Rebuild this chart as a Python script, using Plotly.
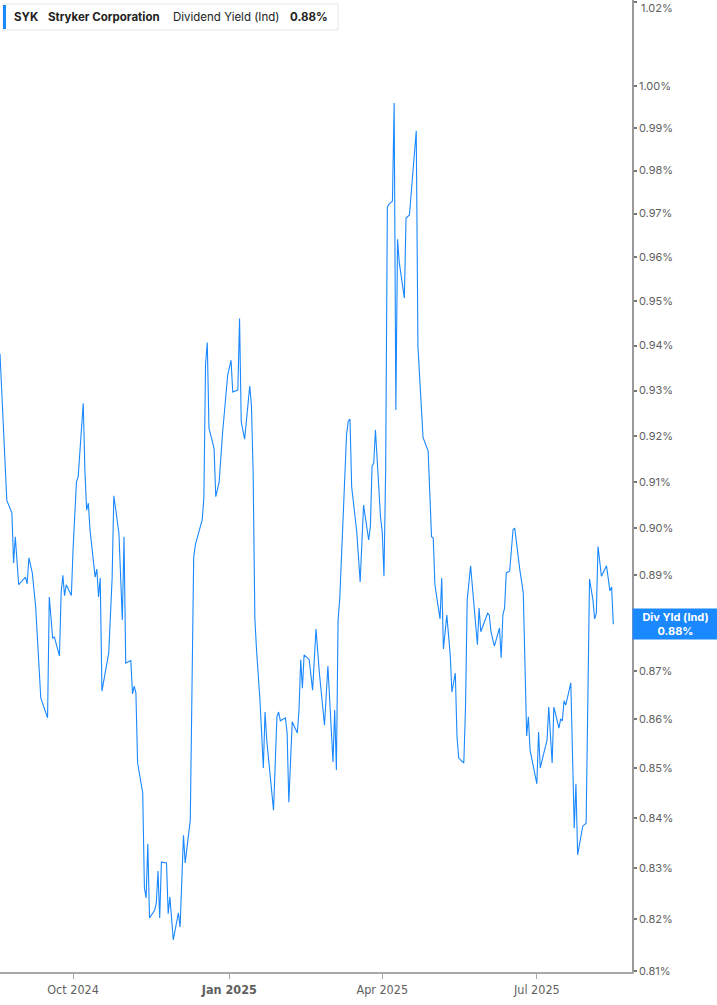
import math
import plotly.graph_objects as go

dates = [
    "2024-08-19", "2024-08-22", "2024-08-23", "2024-08-26", "2024-08-27", "2024-08-28", "2024-08-30",
    "2024-09-03", "2024-09-04", "2024-09-05", "2024-09-07", "2024-09-09", "2024-09-10", "2024-09-12",
    "2024-09-16", "2024-09-17", "2024-09-19", "2024-09-20", "2024-09-23", "2024-09-24", "2024-09-25",
    "2024-09-26", "2024-09-27", "2024-09-30", "2024-10-01", "2024-10-03", "2024-10-04", "2024-10-07",
    "2024-10-08", "2024-10-09", "2024-10-10", "2024-10-11", "2024-10-14", "2024-10-15", "2024-10-16",
    "2024-10-17", "2024-10-18", "2024-10-22", "2024-10-24", "2024-10-25", "2024-10-28", "2024-10-30",
    "2024-10-31", "2024-11-01", "2024-11-04", "2024-11-05", "2024-11-06", "2024-11-07", "2024-11-08",
    "2024-11-11", "2024-11-12", "2024-11-13", "2024-11-14", "2024-11-15", "2024-11-18", "2024-11-19",
    "2024-11-20", "2024-11-21", "2024-11-22", "2024-11-25", "2024-11-26", "2024-11-27", "2024-11-29",
    "2024-12-02", "2024-12-03", "2024-12-05", "2024-12-06", "2024-12-09", "2024-12-11", "2024-12-12",
    "2024-12-16", "2024-12-17", "2024-12-18", "2024-12-19", "2024-12-20", "2024-12-23", "2024-12-24",
    "2024-12-26", "2024-12-28", "2024-12-31", "2025-01-02", "2025-01-03", "2025-01-06", "2025-01-07",
    "2025-01-08", "2025-01-10", "2025-01-13", "2025-01-14", "2025-01-15", "2025-01-16", "2025-01-17",
    "2025-01-19", "2025-01-21", "2025-01-22", "2025-01-23", "2025-01-25", "2025-01-27", "2025-01-29",
    "2025-01-30", "2025-01-31", "2025-02-03", "2025-02-04", "2025-02-05", "2025-02-07", "2025-02-10",
    "2025-02-11", "2025-02-12", "2025-02-13", "2025-02-14", "2025-02-17", "2025-02-19", "2025-02-21",
    "2025-02-23", "2025-02-26", "2025-02-28", "2025-03-03", "2025-03-04", "2025-03-05", "2025-03-06",
    "2025-03-07", "2025-03-09", "2025-03-11", "2025-03-12", "2025-03-13", "2025-03-14", "2025-03-17",
    "2025-03-19", "2025-03-21", "2025-03-24", "2025-03-25", "2025-03-26", "2025-03-27", "2025-03-28",
    "2025-03-31", "2025-04-01", "2025-04-02", "2025-04-03", "2025-04-04", "2025-04-05", "2025-04-07",
    "2025-04-08", "2025-04-09", "2025-04-10", "2025-04-11", "2025-04-14", "2025-04-15", "2025-04-17",
    "2025-04-21", "2025-04-22", "2025-04-25", "2025-04-28", "2025-04-30", "2025-05-01", "2025-05-02",
    "2025-05-05", "2025-05-06", "2025-05-07", "2025-05-09", "2025-05-11", "2025-05-12", "2025-05-14",
    "2025-05-15", "2025-05-16", "2025-05-19", "2025-05-20", "2025-05-21", "2025-05-23", "2025-05-25",
    "2025-05-27", "2025-05-28", "2025-05-29", "2025-06-02", "2025-06-03", "2025-06-04", "2025-06-06",
    "2025-06-09", "2025-06-10", "2025-06-11", "2025-06-12", "2025-06-13", "2025-06-15", "2025-06-17",
    "2025-06-18", "2025-06-21", "2025-06-23", "2025-06-25", "2025-06-26", "2025-06-27", "2025-06-29",
    "2025-07-01", "2025-07-02", "2025-07-03", "2025-07-07", "2025-07-08", "2025-07-10", "2025-07-11",
    "2025-07-14", "2025-07-15", "2025-07-16", "2025-07-17", "2025-07-18", "2025-07-21", "2025-07-23",
    "2025-07-24", "2025-07-25", "2025-07-28", "2025-07-30", "2025-08-01", "2025-08-03", "2025-08-04",
    "2025-08-05", "2025-08-06", "2025-08-08", "2025-08-10", "2025-08-11", "2025-08-13", "2025-08-14",
    "2025-08-15",
]

div_yield = [
    0.9382, 0.9120, 0.9060, 0.9033, 0.8926, 0.8982, 0.8880,
    0.8896, 0.8882, 0.8937, 0.8905, 0.8833, 0.8764, 0.8644,
    0.8603, 0.8854, 0.8768, 0.8770, 0.8731, 0.8863, 0.8900,
    0.8857, 0.8880, 0.8857, 0.8954, 0.9100, 0.9111, 0.9272,
    0.9121, 0.9039, 0.9054, 0.8996, 0.8896, 0.8913, 0.8854,
    0.8894, 0.8658, 0.8737, 0.8894, 0.9070, 0.8990, 0.8806,
    0.8982, 0.8716, 0.8721, 0.8652, 0.8668, 0.8654, 0.8511,
    0.8451, 0.8262, 0.8242, 0.8349, 0.8203, 0.8218, 0.8232,
    0.8295, 0.8203, 0.8313, 0.8311, 0.8211, 0.8244, 0.8160,
    0.8213, 0.8185, 0.8366, 0.8311, 0.8396, 0.8937, 0.8965,
    0.9018, 0.9065, 0.9360, 0.9407, 0.9217, 0.9173, 0.9068,
    0.9100, 0.9206, 0.9334, 0.9367, 0.9297, 0.9301, 0.9461,
    0.9231, 0.9193, 0.9310, 0.9268, 0.9121, 0.8810, 0.8743,
    0.8640, 0.8501, 0.8615, 0.8558, 0.8491, 0.8416, 0.8605,
    0.8615, 0.8597, 0.8603, 0.8572, 0.8432, 0.8595, 0.8572,
    0.8619, 0.8723, 0.8664, 0.8733, 0.8723, 0.8660, 0.8787,
    0.8695, 0.8588, 0.8710, 0.8513, 0.8619, 0.8497, 0.8806,
    0.8852, 0.9031, 0.9204, 0.9233, 0.9237, 0.9089, 0.8992,
    0.8886, 0.9050, 0.8975, 0.9003, 0.9134, 0.9141, 0.9213,
    0.9022, 0.8992, 0.8898, 0.9126, 0.9715, 0.9722, 0.9729,
    0.9959, 0.9257, 0.9641, 0.9588, 0.9507, 0.9690, 0.9697,
    0.9893, 0.9398, 0.9197, 0.9167, 0.8982, 0.8979, 0.8880,
    0.8808, 0.8894, 0.8745, 0.8816, 0.8733, 0.8656, 0.8695,
    0.8564, 0.8521, 0.8511, 0.8625, 0.8848, 0.8920, 0.8827,
    0.8754, 0.8831, 0.8781, 0.8820, 0.8816, 0.8781, 0.8751,
    0.8789, 0.8727, 0.8816, 0.8831, 0.8905, 0.8909, 0.8998,
    0.9000, 0.8911, 0.8863, 0.8566, 0.8605, 0.8537, 0.8501,
    0.8469, 0.8574, 0.8501, 0.8558, 0.8625, 0.8511, 0.8625,
    0.8582, 0.8601, 0.8597, 0.8638, 0.8629, 0.8675, 0.8380,
    0.8469, 0.8327, 0.8384, 0.8390, 0.8892, 0.8848, 0.8808,
    0.8820, 0.8961, 0.8898, 0.8911, 0.8920, 0.8867, 0.8875,
    0.8797,
]

# 0.88% tick sits under the last-value label, so it is not drawn
y_tick_values = [0.81, 0.82, 0.83, 0.84, 0.85, 0.86, 0.87, 0.89, 0.90,
                 0.91, 0.92, 0.93, 0.94, 0.95, 0.96, 0.97, 0.98, 0.99, 1.00, 1.02]
y_tick_labels = [f"{v:.2f}%" for v in y_tick_values]
top_tick_label = y_tick_labels[-1]
# the top label is drawn separately so it stays fully inside the page
y_tick_labels_axis = y_tick_labels[:-1] + [""]

x_tick_dates = ["2024-10-01", "2025-01-01", "2025-04-01", "2025-07-01"]
x_tick_labels = ["Oct 2024", "<b>Jan 2025</b>", "Apr 2025", "Jul 2025"]

ticker = "SYK"
company = "Stryker Corporation"
metric = "Dividend Yield (Ind)"
last_value_label = "0.88%"
side_label = "Div Yld (Ind)"

LINE = "#1a88ff"
AXIS = "#9a9a9a"
TXT = "#5f5f5f"
FONT = "Inter, Roboto, 'Liberation Sans', sans-serif"
NARROW = "'Liberation Sans Narrow', 'DejaVu Sans Condensed', 'Roboto', sans-serif"

fig = go.Figure()
fig.add_trace(go.Scatter(
    x=dates, y=div_yield, mode="lines",
    line=dict(color=LINE, width=1.1),
    hoverinfo="skip", showlegend=False,
))

PLOT_W, PLOT_H = 632, 972

def px_x(p):
    return p / PLOT_W

def px_y(p):
    return 1 - p / PLOT_H

fig.update_layout(
    width=717, height=1005,
    margin=dict(l=0, r=85, t=0, b=33),
    paper_bgcolor="white", plot_bgcolor="white",
    font=dict(family=FONT, color=TXT, size=11),
    xaxis=dict(
        type="date",
        range=["2024-08-19", "2025-08-26"],
        showgrid=False, zeroline=False, automargin=False,
        showline=True, linecolor="#a8a8a8", linewidth=2,
        ticks="outside", ticklen=5, tickcolor="#a8a8a8", tickwidth=1,
        tickvals=x_tick_dates, ticktext=x_tick_labels,
        tickfont=dict(size=12.5, color=TXT, family=NARROW),
    ),
    yaxis=dict(
        type="log", side="right",
        range=[math.log10(0.8098), math.log10(1.0206)],
        showgrid=False, zeroline=False, automargin=False,
        showline=True, linecolor=AXIS, linewidth=1.5,
        ticks="outside", ticklen=3, tickcolor="#777777", tickwidth=2,
        tickvals=y_tick_values, ticktext=y_tick_labels_axis,
        tickfont=dict(size=11, color=TXT, family=FONT),
        ticklabeloverflow="allow",
    ),
)

fig.add_annotation(xref="paper", yref="paper", x=px_x(640), y=1,
                   xanchor="left", yanchor="top", showarrow=False,
                   text=top_tick_label, font=dict(size=11, color=TXT, family=FONT),
                   borderpad=0)

# Legend box (top-left)
fig.add_shape(type="rect", xref="paper", yref="paper",
              x0=px_x(3), x1=px_x(338), y0=px_y(30), y1=px_y(4),
              line=dict(color="#e6e6e6", width=1), fillcolor="white", layer="above")
fig.add_shape(type="rect", xref="paper", yref="paper",
              x0=px_x(3), x1=px_x(6), y0=px_y(29), y1=px_y(5),
              line=dict(width=0), fillcolor=LINE, layer="above")

legend_parts = [
    (12, f"<b>{ticker}</b>"),
    (46, f"<b>{company}</b>"),
    (171, metric),
    (288, f"<b>{last_value_label}</b>"),
]
for xp, txt in legend_parts:
    fig.add_annotation(xref="paper", yref="paper", x=px_x(xp), y=px_y(17),
                       xanchor="left", yanchor="middle", showarrow=False,
                       text=txt, font=dict(size=11.5, color="#222222", family=FONT))

# Right-side last value label
fig.add_annotation(xref="paper", yref="y", x=1, y=math.log10(div_yield[-1]),
                   xanchor="left", yanchor="middle", showarrow=False,
                   text=f"<b>{side_label}</b><br><b>{last_value_label}</b>",
                   font=dict(size=11, color="white", family=FONT),
                   bgcolor=LINE, width=83, height=28, borderpad=1,
                   align="center")

fig.write_html("out.html", config={"displayModeBar": False},
               post_script="document.body.style.margin='0';document.body.style.overflow='hidden';")
